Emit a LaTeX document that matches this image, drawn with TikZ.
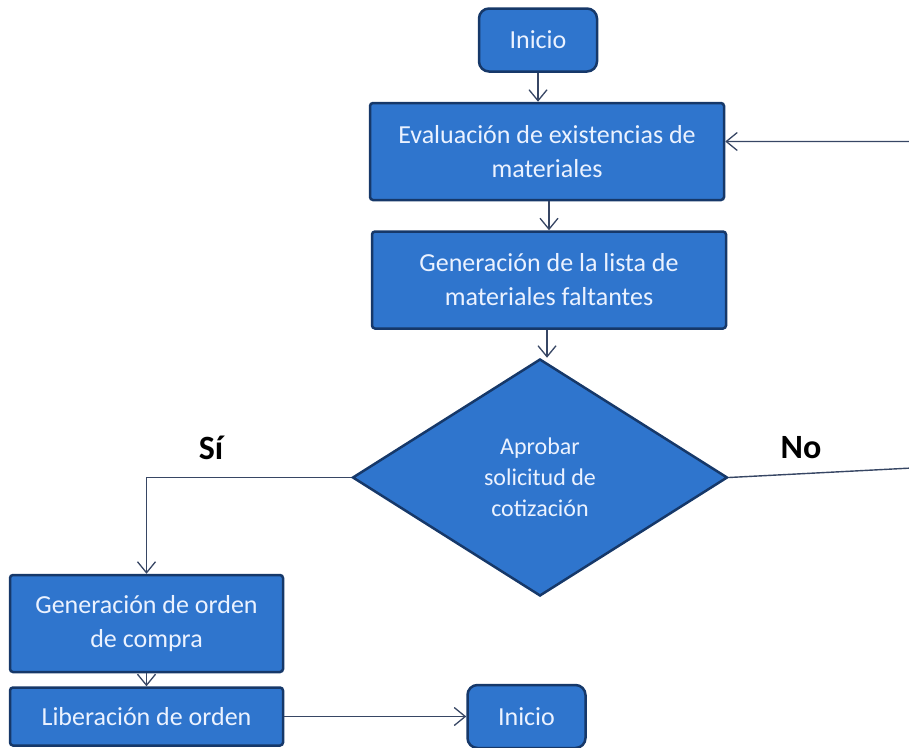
\documentclass[tikz,border=0pt]{standalone}
\usepackage{fontspec}
\setmainfont{Carlito}
\usetikzlibrary{arrows.meta,positioning,shapes.geometric}
\definecolor{boxblue}{RGB}{47,117,205}
\definecolor{boxedge}{RGB}{22,56,105}
\definecolor{arrowgray}{RGB}{55,70,100}
\definecolor{boxtext}{RGB}{235,242,255}

\begin{document}
\begin{tikzpicture}[x=1pt, y=-1pt,
        font=\fontsize{26}{34}\selectfont,
        blk/.style={draw=boxedge, line width=2.5pt, rounded corners=3pt, fill=boxblue,
            text=boxtext, align=center, inner sep=0pt, minimum height=97pt, minimum width=354pt},
        term/.style={blk, rounded corners=10pt, minimum width=118pt, minimum height=63pt},
        dec/.style={draw=boxedge, line width=2.5pt, diamond, fill=boxblue, text=boxtext,
            align=center, inner sep=0pt, minimum width=375pt, minimum height=237pt,
            font=\fontsize{24}{31}\selectfont},
        lbl/.style={font=\fontsize{34}{36}\selectfont\bfseries},
        line/.style={-{Straight Barb[length=11pt, width=18pt, line width=1.3pt]},
            draw=arrowgray, line width=1.4pt}]
    \useasboundingbox (0,0) rectangle (909,747);
    \node[term] (ini) at (538,40) {Inicio};
    \node[blk, below=29pt of ini, xshift=9pt] (eval) {Evaluación de existencias de\\ materiales};
    \node[blk, below=29pt of eval, xshift=2pt] (lista) {Generación de la lista de\\ materiales faltantes};
    \node[dec, below=28pt of lista, xshift=-9pt] (aprob) {Aprobar\\ solicitud de\\ cotización};
    \node[blk, minimum width=273pt] (compra) at (146.5,623.5) {Generación de orden\\ de compra};
    \node[blk, below=13pt of compra, minimum width=273pt, minimum height=58pt] (lib) {Liberación de orden};
    \node[term, right=182pt of lib] (fin) {Inicio};
    \node[lbl] (si) at (211,448) {Sí};
    \node[lbl] (no) at (801,448) {No};
    \coordinate (ret) at (912,468);
    \draw[line] (ini) -- (ini |- eval.north);
    \draw[line] (eval.south -| lista) -- (lista);
    \draw[line] (lista.south -| 547,0) -- (aprob.north -| 547,0);
    \draw[line] (aprob.west) -| (compra.north);
    \draw[line] (compra) -- (lib);
    \draw[line] (lib) -- (fin);
    \draw[line] (aprob.east) -- (ret) |- ([yshift=10pt]eval.east);
\end{tikzpicture}
\end{document}
